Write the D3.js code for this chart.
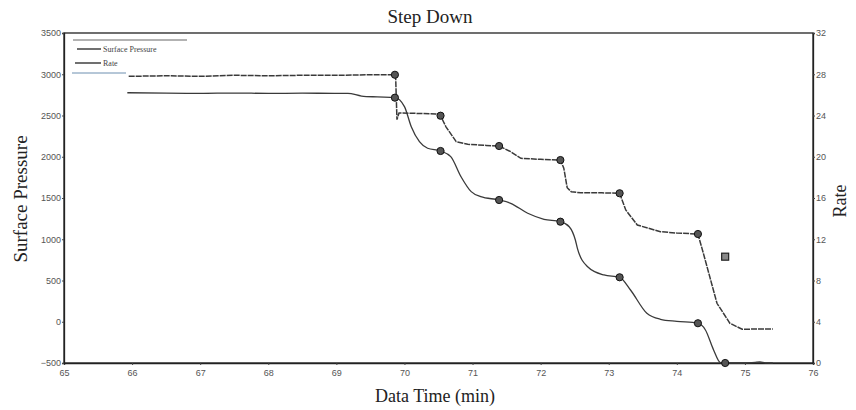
<!DOCTYPE html>
<html><head><meta charset="utf-8">
<script src="https://cdn.jsdelivr.net/npm/d3@7"></script>
<style>body{margin:0;background:#fff}</style>
</head><body>
<svg id="c" width="856" height="410"></svg>
<script>
const xTicks = [65,66,67,68,69,70,71,72,73,74,75,76];
const leftTicks = [-500,0,500,1000,1500,2000,2500,3000,3500];
const rightTicks = [0,4,8,12,16,20,24,28,32];

const pressureTime = [65.93,66.5,67,67.5,68,68.5,68.97,69.17,69.37,69.6,69.86,70.0,70.1,70.22,70.34,70.53,70.68,70.83,70.98,71.12,71.39,71.56,71.81,72.05,72.29,72.42,72.51,72.54,72.69,72.93,73.16,73.32,73.56,73.76,74.0,74.31,74.42,74.54,74.64,74.71,75.0,75.15,75.22,75.3,75.41];
const pressureVal  = [2776,2770,2768,2772,2768,2770,2769,2769,2736,2725,2716,2607,2364,2183,2103,2070,2001,1759,1577,1516,1476,1436,1315,1242,1213,1152,991,890,667,567,539,385,103,30,5,-18,-100,-342,-495,-500,-500,-492,-488,-498,-500];
const pressureMarkT = [69.86,70.53,71.39,72.29,73.16,74.31,74.71];
const pressureMarkV = [2716,2070,1476,1213,539,-18,-500];

const rateTime = [65.95,66.5,67,67.5,68,68.5,69,69.5,69.86,69.87,69.89,69.92,70.2,70.46,70.53,70.61,70.76,70.93,71.2,71.39,71.56,71.71,72.0,72.29,72.34,72.39,72.45,72.59,72.9,73.16,73.25,73.42,73.76,74.0,74.31,74.39,74.59,74.78,74.96,75.2,75.41];
const rateVal  = [27.8,27.85,27.8,27.9,27.85,27.9,27.9,27.95,27.95,27.9,23.6,24.25,24.2,24.15,23.98,22.9,21.46,21.21,21.1,21.04,20.49,19.85,19.75,19.68,18.9,17.0,16.6,16.51,16.5,16.46,14.84,13.38,12.73,12.6,12.51,10.64,5.79,3.85,3.27,3.3,3.3];
const rateMarkT = [69.86,70.53,71.39,72.29,73.16,74.31];
const rateMarkV = [27.95,23.98,21.04,19.68,16.46,12.51];
const extraT = [74.71];
const extraV = [10.31];

const svg = d3.select('#c');
const L=64, R=813, T=33, B=363;
const x = d3.scaleLinear().domain([65,76]).range([L,R]);
const yL = d3.scaleLinear().domain([-500,3500]).range([B,T]);
const yR = d3.scaleLinear().domain([0,32]).range([B,T]);

// frame
svg.append('rect').attr('x',L).attr('y',T).attr('width',R-L).attr('height',B-T)
  .attr('fill','none').attr('stroke','#222').attr('stroke-width',1.3);

const tickFont = 'Liberation Sans, Arial, sans-serif';
const ax = svg.append('g').attr('transform',`translate(0,${B})`)
  .call(d3.axisBottom(x).tickValues(xTicks).tickSize(2).tickFormat(d3.format('d')));
const al = svg.append('g').attr('transform',`translate(${L},0)`)
  .call(d3.axisLeft(yL).tickValues(leftTicks).tickSize(2).tickPadding(1).tickFormat(d3.format('d')));
const ar = svg.append('g').attr('transform',`translate(${R},0)`)
  .call(d3.axisRight(yR).tickValues(rightTicks).tickSize(2).tickPadding(1).tickFormat(d3.format('d')));
[ax,al,ar].forEach(g=>{
  g.select('.domain').attr('stroke','#222').attr('stroke-width',1.3);
  g.selectAll('.tick line').attr('stroke','#444');
  g.selectAll('.tick text').attr('fill','#555').style('font-family',tickFont).style('font-size','9px');
});
ax.selectAll('.tick text').attr('dy','0.9em');

// lines
const lineP = d3.line().x((d,i)=>x(pressureTime[i])).y((d,i)=>yL(pressureVal[i])).curve(d3.curveMonotoneX);
const lineR = d3.line().x((d,i)=>x(rateTime[i])).y((d,i)=>yR(rateVal[i]));
svg.append('path').datum(pressureVal).attr('d',lineP).attr('fill','none').attr('stroke','#3a3a3a').attr('stroke-width',1.3);
svg.append('path').datum(rateVal).attr('d',lineR).attr('fill','none').attr('stroke','#3a3a3a').attr('stroke-width',1.5).attr('stroke-dasharray','6,1');

svg.append('g').selectAll('circle').data(pressureMarkT).join('circle')
  .attr('cx',d=>x(d)).attr('cy',(d,i)=>yL(pressureMarkV[i])).attr('r',3.6)
  .attr('fill','#555').attr('stroke','#111').attr('stroke-width',1);
svg.append('g').selectAll('circle').data(rateMarkT).join('circle')
  .attr('cx',d=>x(d)).attr('cy',(d,i)=>yR(rateMarkV[i])).attr('r',3.6)
  .attr('fill','#555').attr('stroke','#111').attr('stroke-width',1);
svg.append('g').selectAll('rect').data(extraT).join('rect')
  .attr('x',d=>x(d)-3.5).attr('y',(d,i)=>yR(extraV[i])-3.5).attr('width',7).attr('height',7)
  .attr('fill','#888').attr('stroke','#222').attr('stroke-width',1.2);

// legend
const lg = svg.append('g');
lg.append('line').attr('x1',73).attr('x2',187).attr('y1',40).attr('y2',40).attr('stroke','#666').attr('stroke-width',1);
lg.append('line').attr('x1',77).attr('x2',101).attr('y1',49).attr('y2',49).attr('stroke','#222').attr('stroke-width',1.3);
lg.append('text').attr('x',103).attr('y',52).text('Surface Pressure').style('font-family','Liberation Serif, serif').style('font-size','8px').attr('fill','#444');
lg.append('line').attr('x1',75).attr('x2',101).attr('y1',63).attr('y2',63).attr('stroke','#222').attr('stroke-width',1.3);
lg.append('text').attr('x',103).attr('y',66).text('Rate').style('font-family','Liberation Serif, serif').style('font-size','8px').attr('fill','#444');
lg.append('line').attr('x1',72).attr('x2',126).attr('y1',73).attr('y2',73).attr('stroke','#6d8fb0').attr('stroke-width',1);

// titles
const serif = 'Liberation Serif, Times New Roman, serif';
svg.append('text').attr('x',430).attr('y',23).attr('text-anchor','middle').text('Step Down')
  .style('font-family',serif).style('font-size','19px').attr('fill','#222');
svg.append('text').attr('x',435).attr('y',402).attr('text-anchor','middle').text('Data Time (min)')
  .style('font-family',serif).style('font-size','18px').attr('fill','#222');
svg.append('text').attr('transform','translate(27,199) rotate(-90)').attr('text-anchor','middle').text('Surface Pressure')
  .style('font-family',serif).style('font-size','19px').attr('fill','#222');
svg.append('text').attr('transform','translate(846,201) rotate(-90)').attr('text-anchor','middle').text('Rate')
  .style('font-family',serif).style('font-size','18px').attr('fill','#222');
</script>
</body></html>
